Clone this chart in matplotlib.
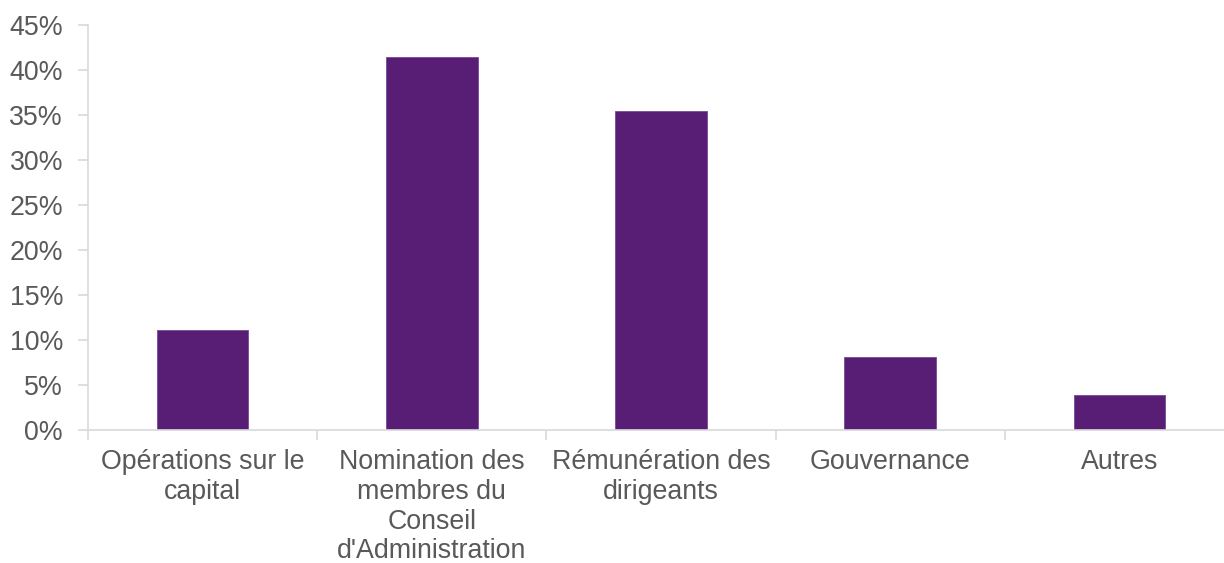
import matplotlib.pyplot as plt
import numpy as np
from matplotlib.ticker import FuncFormatter

plt.rcParams['font.family'] = ['Liberation Sans', 'DejaVu Sans']

# Donnees
categories = ["Opérations sur le\ncapital",
              "Nomination des\nmembres du\nConseil\nd'Administration",
              "Rémunération des\ndirigeants",
              "Gouvernance",
              "Autres"]
valeurs = [0.111, 0.415, 0.354, 0.081, 0.039]

couleur = "#581D74"
gris = "#595959"
gris_axe = "#D9D9D9"

fig = plt.figure(figsize=(12.24, 5.63), dpi=100)
ax = fig.add_axes([88 / 1224, 133 / 563, 1146 / 1224, 405 / 563])

x = np.arange(len(categories))
ax.bar(x, valeurs, width=0.4, color=couleur, edgecolor="#7A4A93", linewidth=0.6)

ax.set_xlim(-0.5, len(categories) - 0.5)
ax.set_ylim(0, 0.45)
ax.set_yticks(np.arange(0, 0.451, 0.05))
ax.yaxis.set_major_formatter(FuncFormatter(lambda v, p: f"{v * 100:.0f}%"))

# Graduations entre categories
ax.set_xticks(x)
ax.set_xticklabels(categories, fontsize=19.3, color=gris, linespacing=1.18)
ax.set_xticks(np.arange(-0.5, len(categories)), minor=True)
ax.tick_params(axis="x", which="major", length=0, pad=14)
ax.tick_params(axis="x", which="minor", length=7, color=gris_axe, width=1.2)
ax.tick_params(axis="y", length=7, color=gris_axe, width=1.2, labelsize=19.3,
               labelcolor=gris, pad=11)

for s in ["top", "right"]:
    ax.spines[s].set_visible(False)
for s in ["left", "bottom"]:
    ax.spines[s].set_color(gris_axe)
    ax.spines[s].set_linewidth(1.2)

fig.savefig("out.png", dpi=100)
